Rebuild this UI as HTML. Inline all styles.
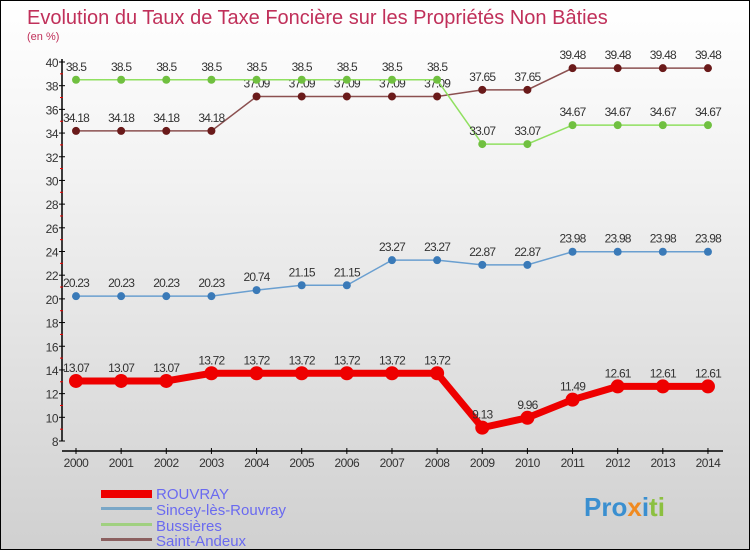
<!DOCTYPE html>
<html><head><meta charset="utf-8"><style>
body{margin:0}
#wrap{width:748px;height:548px;border:1px solid #000;background:linear-gradient(#fff 0%,#f3f3f3 30%,#d0d0d0 100%);position:relative;overflow:hidden;font-family:"Liberation Sans",sans-serif}
</style></head><body>
<div id="wrap">
<svg id="svg" width="748" height="548" xmlns="http://www.w3.org/2000/svg">
<text x="26" y="23" font-size="20" fill="#c0305a">Evolution du Taux de Taxe Foncière sur les Propriétés Non Bâties</text>
<text x="26" y="39" font-size="11" fill="#c0305a">(en %)</text>
<g id="axes"></g><g id="series"></g>
<g>
<rect x="100" y="489" width="51" height="8" fill="#e00"/>
<text x="155" y="498" font-size="15" fill="#6a6af0">ROUVRAY</text>
<rect x="100" y="506" width="51" height="3" fill="#7aa7c7"/>
<text x="155" y="514" font-size="15" fill="#6a6af0">Sincey-lès-Rouvray</text>
<rect x="100" y="522" width="51" height="3" fill="#a0d080"/>
<text x="155" y="530" font-size="15" fill="#6a6af0">Bussières</text>
<rect x="100" y="537" width="51" height="3" fill="#8b6060"/>
<text x="155" y="545" font-size="15" fill="#6a6af0">Saint-Andeux</text>
</g>
<g font-size="26" font-weight="bold">
<text x="583" y="515"><tspan fill="#3a8fd0">Pro</tspan><tspan fill="#f08a20">x</tspan><tspan fill="#3a8fd0">i</tspan><tspan fill="#8cc040">ti</tspan></text>
</g>
</svg>
</div>
<script>
const years=[2000,2001,2002,2003,2004,2005,2006,2007,2008,2009,2010,2011,2012,2013,2014];
const rouvray=[13.07,13.07,13.07,13.72,13.72,13.72,13.72,13.72,13.72,9.13,9.96,11.49,12.61,12.61,12.61];
const sincey=[20.23,20.23,20.23,20.23,20.74,21.15,21.15,23.27,23.27,22.87,22.87,23.98,23.98,23.98,23.98];
const bussieres=[38.5,38.5,38.5,38.5,38.5,38.5,38.5,38.5,38.5,33.07,33.07,34.67,34.67,34.67,34.67];
const andeux=[34.18,34.18,34.18,34.18,37.09,37.09,37.09,37.09,37.09,37.65,37.65,39.48,39.48,39.48,39.48];
const yTicks=[8,10,12,14,16,18,20,22,24,26,28,30,32,34,36,38,40];
const NS="http://www.w3.org/2000/svg";
const x=i=>75+i*45.14;
const y=v=>440-(v-8)*(379/32);
function mk(t,a,p){const e=document.createElementNS(NS,t);for(const k in a)e.setAttribute(k,a[k]);p.appendChild(e);return e;}
const ax=document.getElementById('axes');
let l=mk('line',{x1:61,y1:y(40)-3,x2:61,y2:y(8),stroke:'#000','stroke-width':1.5},ax);


l=mk('line',{x1:61,y1:450,x2:722,y2:450,stroke:'#000','stroke-width':1.5},ax);


yTicks.forEach(v=>{
 mk('line',{x1:58,y1:y(v),x2:64,y2:y(v),stroke:'#000'},ax);
 if(v<40) mk('line',{x1:59,y1:y(v+1),x2:62,y2:y(v+1),stroke:'#e00'},ax);
 const t=mk('text',{x:57,y:y(v)+5,'font-size':12,'text-anchor':'end',fill:'#333','letter-spacing':'-0.5'},ax);
 t.textContent=v;
 
 
});
years.forEach((yr,i)=>{
 mk('line',{x1:x(i),y1:447,x2:x(i),y2:453,stroke:'#000'},ax);
 const t=mk('text',{x:x(i),y:466,'font-size':12,'text-anchor':'middle',fill:'#333','letter-spacing':'-0.5'},ax);
 t.textContent=yr;
 
 
});
const sg=document.getElementById('series');
function draw(vals,name,line,dot,w,r){
 const g=mk('g',{},sg);
 
 
 const p=mk('polyline',{points:vals.map((v,i)=>x(i)+','+y(v)).join(' '),fill:'none',stroke:line,'stroke-width':w},g);
 
 
 vals.forEach((v,i)=>{
  const c=mk('circle',{cx:x(i),cy:y(v),r:r,fill:dot},g);
  
  
  const t=mk('text',{x:x(i),y:y(v)-9,'font-size':12,'text-anchor':'middle',fill:'#333','letter-spacing':'-0.8'},g);
  t.textContent=v;
  
  
 });
}
draw(andeux,'saint-andeux','#8b5050','#6a1a1a',1.5,4);
draw(bussieres,'bussieres','#90e060','#70c040',1.5,4);
draw(sincey,'sincey','#6a9fd0','#3a7ab8',1.5,4);
draw(rouvray,'rouvray','#e00','#e00',7,7);
</script>
</body></html>
